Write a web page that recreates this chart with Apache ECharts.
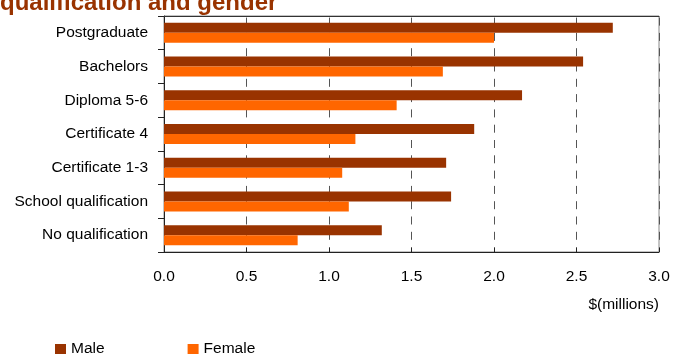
<!DOCTYPE html>
<html>
<head>
<meta charset="utf-8">
<script src="https://cdn.jsdelivr.net/npm/echarts@6/dist/echarts.min.js"></script>
<style>
  html, body { margin: 0; padding: 0; background: #fff; }
  #chart { width: 674px; height: 354px; }
</style>
</head>
<body>
<div id="chart"></div>
<script>
// Lifetime earnings by highest qualification, split by gender ($ millions)
const categories = [
  'Postgraduate',
  'Bachelors',
  'Diploma 5-6',
  'Certificate 4',
  'Certificate 1-3',
  'School qualification',
  'No qualification'
];
const maleValues   = [2.72, 2.54, 2.17, 1.88, 1.71, 1.74, 1.32];
const femaleValues = [2.00, 1.69, 1.41, 1.16, 1.08, 1.12, 0.81];
const xTicks = [0, 0.5, 1.0, 1.5, 2.0, 2.5, 3.0];

const FONT = '"Liberation Sans", Arial, sans-serif';
const FS = 15.5;
const MALE = '#993300';
const FEMALE = '#ff6600';

const chart = echarts.init(document.getElementById('chart'), null, { renderer: 'canvas' });

const xMin = xTicks[0];
const xMax = xTicks[xTicks.length - 1];
const xStep = xTicks[1] - xTicks[0];

chart.setOption({
  animation: false,
  backgroundColor: '#ffffff',
  textStyle: { fontFamily: FONT },
  graphic: [{
    type: 'text',
    left: 0,
    top: -9,
    style: {
      text: 'qualification and gender',
      fontFamily: FONT,
      fontSize: 24,
      fontWeight: 'bold',
      fill: MALE
    }
  }],
  grid: {
    left: 164,
    top: 16,
    width: 495,
    height: 236,
    show: true,
    borderColor: '#888',
    borderWidth: 1,
    backgroundColor: 'transparent'
  },
  legend: {
    left: 50,
    top: 336,
    icon: 'rect',
    itemWidth: 11,
    itemHeight: 10,
    itemGap: 83,
    textStyle: { fontFamily: FONT, fontSize: FS, color: '#000' },
    data: ['Male', 'Female']
  },
  xAxis: [
    {
      type: 'value',
      position: 'bottom',
      min: xMin,
      max: xMax,
      interval: xStep,
      name: '$(millions)',
      nameLocation: 'end',
      nameGap: 0,
      nameTextStyle: {
        fontFamily: FONT,
        fontSize: FS,
        color: '#000',
        align: 'right',
        verticalAlign: 'top',
        padding: [45, 0, 0, 0]
      },
      axisLine: { show: true, lineStyle: { color: '#222', width: 1 } },
      axisTick: { show: true, inside: true, length: 4, lineStyle: { color: '#222' } },
      axisLabel: {
        fontFamily: FONT,
        fontSize: FS,
        color: '#000',
        margin: 17,
        formatter: v => v.toFixed(1)
      },
      splitLine: {
        show: true,
        lineStyle: { color: '#555', type: [8, 7.3], dashOffset: 13.7, width: 1 }
      }
    },
    {
      // plain top frame edge
      type: 'value',
      position: 'top',
      min: xMin,
      max: xMax,
      interval: xStep,
      axisLine: { show: true, lineStyle: { color: '#333', width: 1 } },
      axisTick: { show: false },
      axisLabel: { show: false },
      splitLine: { show: false }
    }
  ],
  yAxis: {
    type: 'category',
    inverse: true,
    data: categories,
    axisLine: { show: true, lineStyle: { color: '#222', width: 1 } },
    axisTick: { show: true, length: 6, lineStyle: { color: '#222' } },
    axisLabel: {
      fontFamily: FONT,
      fontSize: FS,
      color: '#000',
      margin: 16
    },
    splitLine: { show: false }
  },
  series: [
    {
      name: 'Male',
      type: 'bar',
      xAxisIndex: 0,
      data: maleValues,
      barWidth: 10,
      barGap: '0%',
      itemStyle: { color: MALE }
    },
    {
      name: 'Female',
      type: 'bar',
      xAxisIndex: 0,
      data: femaleValues,
      barWidth: 10,
      barGap: '0%',
      itemStyle: { color: FEMALE }
    }
  ]
});
</script>
</body>
</html>
